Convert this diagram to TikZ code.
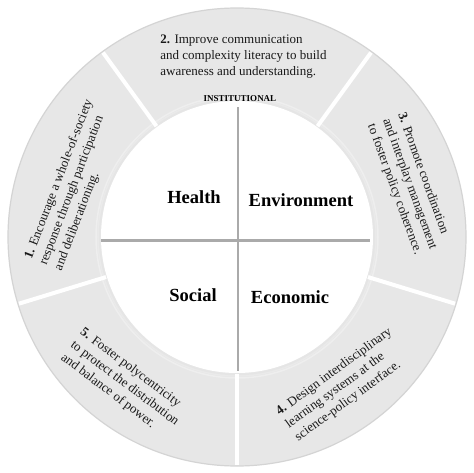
\documentclass[tikz,border=0pt]{standalone}
\usepackage{fontspec}
\setmainfont{Liberation Serif}
\definecolor{ringgray}{RGB}{231,231,231}
\definecolor{ringedge}{RGB}{212,212,212}
\definecolor{crossgray}{RGB}{170,170,170}
\tikzset{
  ringtext/.style={font=\fontsize{13}{16}\selectfont, align=left, inner sep=0pt, text=black!90},
  sector/.style={font=\fontsize{18.5}{20}\selectfont\bfseries, inner sep=0pt},
  divider/.style={white, line width=4pt},
}
\begin{document}
\begin{tikzpicture}
\useasboundingbox (-237pt,-235pt) rectangle (237pt,237pt);
\fill[white] (-237pt,-235pt) rectangle (237pt,237pt);
% ring
\filldraw[fill=ringgray, draw=ringedge, line width=1.2pt] (0,0) circle (229pt);
% soft shadow of the inner disc
\foreach \r/\k in {141/4,139/7,137.5/10}{
  \draw[black!\k, line width=1.5pt, opacity=0.5] (0,0) circle (\r pt);
}
\fill[white] (0,0) circle (136pt);
% dividers
\foreach \a in {54,126,197,270,343}{
  \draw[divider] (\a:137pt) -- (\a:228pt);
}
% cross
\coordinate (vt) at (1pt,130pt);
\coordinate (vb) at (1pt,-134pt);
\coordinate (hl) at (-136pt,-3.5pt);
\coordinate (hr) at (133pt,-3.5pt);
\draw[crossgray, line width=2.2pt] (vt) -- (vb);
\draw[crossgray, line width=3pt] (hl) -- (hr);
% institutional
\node[font=\fontsize{9}{10}\selectfont\bfseries, inner sep=0pt] (inst) at (3pt,138pt) {INSTITUTIONAL};
% sector labels
\node[sector] (health) at (-43pt,40pt) {Health};
\node[sector] (env) at (64pt,37pt) {Environment};
\node[sector] (social) at (-44pt,-58pt) {Social};
\node[sector] (econ) at (53pt,-60pt) {Economic};
% ring texts
\node[ringtext] (t2) at (6.5pt,180pt) {\textbf{2.} Improve communication\\and complexity literacy to build\\awareness and understanding.};
\node[ringtext, rotate=69] (t1) at (-163pt,52pt) {\textbf{1.} Encourage a whole-of-society\\response through participation\\and deliberationing.};
\node[ringtext, rotate=-70] (t3) at (172.5pt,53pt) {\textbf{3.} Promote coordination\\and interplay management\\to foster policy coherence.};
\node[ringtext, rotate=36] (t4) at (106.6pt,-147.8pt) {\textbf{4.} Design interdisciplinary\\learning systems at the\\science-policy interface.};
\node[ringtext, rotate=-37] (t5) at (-112.4pt,-146.7pt) {\textbf{5.} Foster polycentricity\\to protect the distribution\\and balance of power.};
\end{tikzpicture}
\end{document}
